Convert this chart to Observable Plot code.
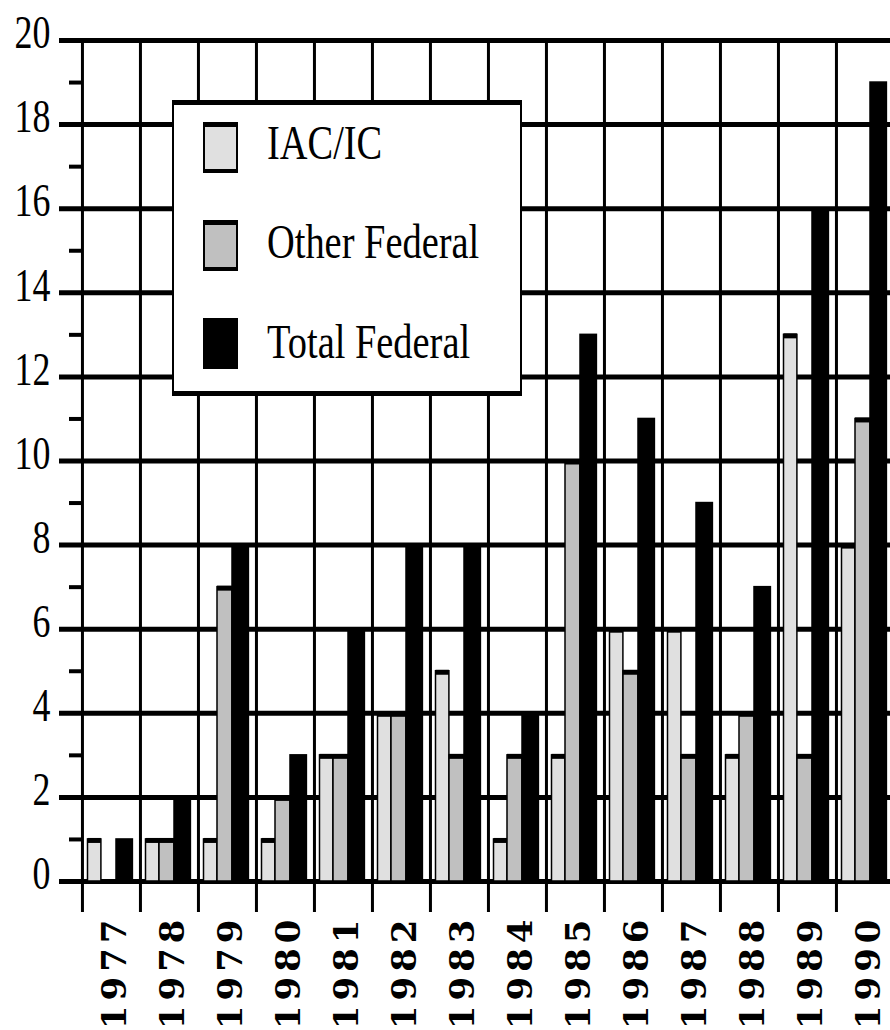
<!DOCTYPE html>
<html>
<head>
<meta charset="utf-8">
<script src="https://cdn.jsdelivr.net/npm/d3@7"></script>
<script src="https://cdn.jsdelivr.net/npm/@observablehq/plot@0.6"></script>
<style>
  html, body { margin: 0; padding: 0; background: #fff; overflow: hidden; }
  #wrap { position: relative; width: 890px; height: 1030px; overflow: hidden; }
  #wrap svg { overflow: hidden; }
  .legend-box { position: absolute; box-sizing: border-box; background: #fff;
    border: 2px solid #000; border-top-width: 5px; border-bottom-width: 5px; }
  .sw { position: absolute; box-sizing: border-box; }
  .lt { position: absolute; font-family: "Liberation Serif", serif; font-size: 48px;
    line-height: 48px; white-space: nowrap; transform: scaleX(0.8); transform-origin: 0 0; color: #000; }
</style>
</head>
<body>
<div id="wrap"></div>
<script>
// ---- data ----
const years = [1977, 1978, 1979, 1980, 1981, 1982, 1983, 1984, 1985, 1986, 1987, 1988, 1989, 1990];
const iacValues   = [1, 1, 1, 1, 3, 4, 5, 1, 3, 6, 6, 3, 13, 8];
const otherValues = [0, 1, 7, 2, 3, 4, 3, 3, 10, 5, 3, 4, 3, 11];
const totalValues = [1, 2, 8, 3, 6, 8, 8, 4, 13, 11, 9, 7, 16, 19];
const seriesNames = ["IAC/IC", "Other Federal", "Total Federal"];
const seriesColors = ["#e0e0e0", "#c0c0c0", "#000000"];
const yMajorTicks = [0, 2, 4, 6, 8, 10, 12, 14, 16, 18, 20];
const yMinorTicks = [1, 3, 5, 7, 9, 11, 13, 15, 17, 19];

// ---- layout ----
const W = 890, H = 1030;
const xRange = [81, 894.4];
const bw = (xRange[1] - xRange[0]) / years.length;
const slots = [[5.5, 19], [19, 34], [34, 50.5]]; // pixel slot of each series inside a year band

const seriesValues = [iacValues, otherValues, totalValues];
const tables = seriesValues.map(vals => years.map((year, i) => ({year, value: vals[i]})).filter(d => d.value > 0));

const barMarks = [];
tables.forEach((rows, s) => {
  const insetLeft = slots[s][0], insetRight = bw - slots[s][1];
  barMarks.push(Plot.barY(rows, {x: "year", y: "value", fill: seriesColors[s], stroke: "#000", strokeWidth: 1.5, insetLeft, insetRight}));
  if (s < 2) barMarks.push(Plot.tickY(rows, {x: "year", y: "value", stroke: "#000", strokeWidth: 5, insetLeft, insetRight, dy: 1}));
});

const chart = Plot.plot({
  width: W, height: H,
  marginLeft: 59, marginRight: 0, marginTop: 40, marginBottom: 149,
  style: {background: "#fff", fontFamily: "Liberation Serif", overflow: "hidden"},
  x: {type: "band", domain: years, range: xRange, padding: 0, axis: null},
  y: {domain: [0, 20], range: [881, 40], axis: null},
  marks: [
    Plot.ruleY(yMajorTicks, {y: d => d, stroke: "#000", strokeWidth: 5}),
    Plot.ruleY(yMinorTicks, {y: d => d, stroke: "#000", strokeWidth: 4, insetLeft: 10, insetRight: W - 59 - 22}),
    Plot.ruleX(years, {x: d => d, y1: 20, y2: -0.74, dx: -bw / 2, stroke: "#000", strokeWidth: 3}),
    ...barMarks,
    Plot.text(yMajorTicks, {y: d => d, text: d => String(d), frameAnchor: "left", textAnchor: "end", dx: -9, dy: -7,
      fontSize: 46, fontFamily: "Liberation Serif", fill: "#000"}),
    Plot.text(years, {x: d => d, text: d => String(d), frameAnchor: "bottom", dy: 33, dx: 14.5, rotate: -90, textAnchor: "end",
      fontSize: 34, fontWeight: "bold", fontFamily: "DejaVu Serif", fill: "#000"})
  ]
});

const wrap = document.getElementById("wrap");
wrap.appendChild(chart);
const yearSet = new Set(years.map(String));
const yTickSet = new Set(yMajorTicks.map(String));
d3.select(chart).selectAll("text").each(function() {
  const t = this.textContent;
  if (yearSet.has(t)) {
    this.style.letterSpacing = "5px";
  } else if (yTickSet.has(t)) {
    this.setAttribute("transform", (this.getAttribute("transform") || "") + " scale(0.78,1)");
  }
});

// ---- legend (overlay) ----
const box = document.createElement("div");
box.className = "legend-box";
Object.assign(box.style, {left: "172px", top: "100px", width: "350px", height: "296px"});
wrap.appendChild(box);
seriesNames.forEach((name, i) => {
  const sw = document.createElement("div");
  sw.className = "sw";
  Object.assign(sw.style, {left: "203px", top: (122 + i * 98) + "px", width: "35px", height: "51px", background: seriesColors[i]});
  if (i < 2) Object.assign(sw.style, {border: "2px solid #000", borderTopWidth: "5px", borderBottomWidth: "4px"});
  wrap.appendChild(sw);
  const t = document.createElement("div");
  t.className = "lt";
  t.textContent = name;
  Object.assign(t.style, {left: "267px", top: (159 + i * 99.5 - 40.2) + "px"});
  wrap.appendChild(t);
});
</script>
</body>
</html>
